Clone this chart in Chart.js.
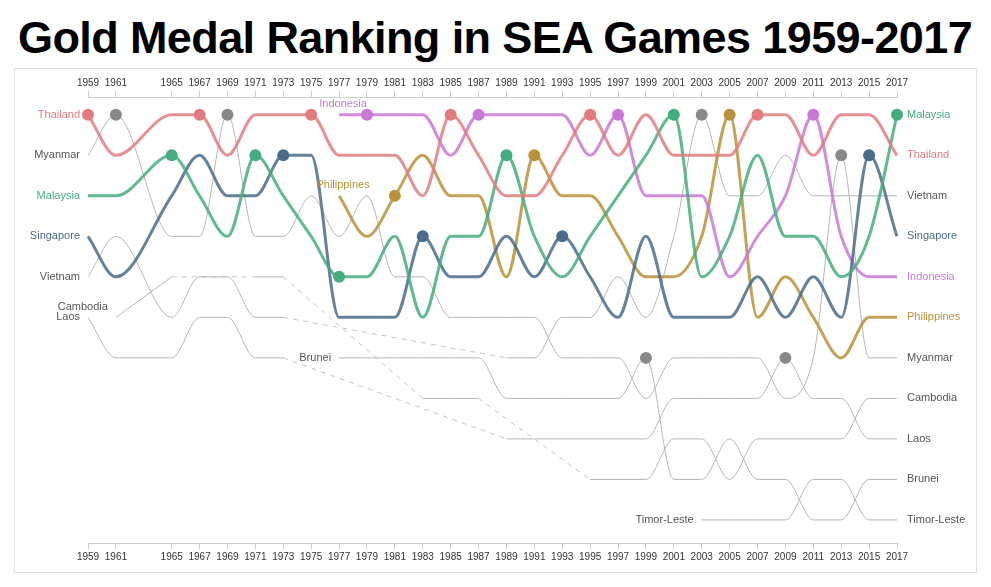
<!DOCTYPE html>
<html>
<head>
<meta charset="utf-8">
<script src="https://cdn.jsdelivr.net/npm/chart.js@4.4.0/dist/chart.umd.min.js"></script>
<style>
  body { margin: 0; background: #fff; font-family: "Liberation Sans", Arial, sans-serif; }
  h1 { position: absolute; left: 18px; top: 13px; margin: 0; font-size: 45px; font-weight: bold; letter-spacing: -0.6px; color: #000; line-height: 50px; }
  #box { position: absolute; left: 14px; top: 68px; width: 961px; height: 503px; border: 1px solid #e2e2e2; }
</style>
</head>
<body>
<h1>Gold Medal Ranking in SEA Games 1959-2017</h1>
<div id="box"><canvas id="rankCanvas"></canvas></div>
<script>
const years = [1959, 1961, 1965, 1967, 1969, 1971, 1973, 1975, 1977, 1979, 1981, 1983, 1985, 1987, 1989,
               1991, 1993, 1995, 1997, 1999, 2001, 2003, 2005, 2007, 2009, 2011, 2013, 2015, 2017];

const hosts = ["Thailand", "Myanmar", "Malaysia", "Thailand", "Myanmar", "Malaysia", "Singapore", "Thailand",
               "Malaysia", "Indonesia", "Philippines", "Singapore", "Thailand", "Indonesia", "Malaysia",
               "Philippines", "Singapore", "Thailand", "Indonesia", "Brunei", "Malaysia", "Vietnam",
               "Philippines", "Thailand", "Laos", "Indonesia", "Myanmar", "Singapore", "Malaysia"];

const n = null;
const thailand    = [1,2,1,1,2,1,1,1,2,2,2,3,1,2,3,3,2,1,2,1,2,2,2,1,1,2,1,1,2];
const malaysia    = [3,3,2,3,4,2,3,4,5,5,4,6,4,4,2,4,5,4,3,2,1,5,4,2,4,4,5,4,1];
const singapore   = [4,5,3,2,3,3,2,2,6,6,6,4,5,5,4,5,4,5,6,4,6,6,6,5,6,5,6,2,4];
const indonesia   = [n,n,n,n,n,n,n,n,1,1,1,1,2,1,1,1,1,2,1,3,3,3,5,4,3,1,4,5,5];
const philippines = [n,n,n,n,n,n,n,n,3,4,3,2,3,3,5,2,3,3,4,5,5,4,1,6,5,6,7,6,6];
const myanmar     = [2,1,4,4,1,4,4,3,4,3,5,5,6,6,6,6,7,7,7,8,7,7,7,7,8,7,2,7,7];
const vietnam     = [5,4,6,5,5,6,6,n,n,n,n,n,n,n,7,7,6,6,5,6,4,1,3,3,2,3,3,3,3];
const cambodia    = [n,6,5,n,n,5,5,n,n,n,n,8,8,8,n,n,n,10,10,10,9,9,10,9,9,9,9,8,8];
const laos        = [6,7,7,6,6,7,7,n,n,n,n,n,n,n,9,9,9,9,9,9,8,8,8,8,7,8,8,9,9];
const brunei      = [n,n,n,n,n,n,n,n,7,7,7,7,7,7,8,8,8,8,8,7,10,10,9,10,10,11,11,10,10];
const timorLeste  = [n,n,n,n,n,n,n,n,n,n,n,n,n,n,n,n,n,n,n,n,n,11,11,11,11,10,10,11,11];

const countries = [
  { name: "Thailand", ranks: thailand, color: "#e07c80", main: true },
  { name: "Malaysia", ranks: malaysia, color: "#45ad7d", main: true },
  { name: "Singapore", ranks: singapore, color: "#4b6b8a", main: true },
  { name: "Indonesia", ranks: indonesia, color: "#c978d6", main: true, above: true },
  { name: "Philippines", ranks: philippines, color: "#b8923a", main: true, above: true },
  { name: "Myanmar", ranks: myanmar, color: "#888888" },
  { name: "Vietnam", ranks: vietnam, color: "#888888" },
  { name: "Cambodia", ranks: cambodia, color: "#888888", lift: 10 },
  { name: "Laos", ranks: laos, color: "#888888" },
  { name: "Brunei", ranks: brunei, color: "#888888" },
  { name: "Timor-Leste", ranks: timorLeste, color: "#888888" }
];

function alpha(hex, a) {
  let r = parseInt(hex.substr(1, 2), 16), g = parseInt(hex.substr(3, 2), 16), b = parseInt(hex.substr(5, 2), 16);
  return "rgba(" + r + "," + g + "," + b + "," + a + ")";
}

let datasets = countries.map(function(c) {
  return {
    label: c.name,
    data: years.map(function(y, i) { return { x: y, y: c.ranks[i] }; }),
    borderColor: c.main ? alpha(c.color, 0.85) : "#b5b5b5",
    borderWidth: c.main ? 3 : 1,
    backgroundColor: c.color,
    pointRadius: hosts.map(function(h) { return h == c.name ? 6 : 0; }),
    pointBorderWidth: 0,
    pointHoverRadius: 0,
    cubicInterpolationMode: "monotone",
    spanGaps: false,
    clip: false,
    order: c.main ? 1 : 2
  };
});

// les annees sans participation : ligne pointillee droite
countries.forEach(function(c) {
  let prev = -1;
  c.ranks.forEach(function(v, i) {
    if (v === null) return;
    if (prev >= 0 && i - prev > 1) {
      datasets.push({
        label: c.name + " gap",
        data: [{ x: years[prev], y: c.ranks[prev] }, { x: years[i], y: v }],
        borderColor: "#c4c4c4",
        borderWidth: 1,
        borderDash: [5, 5],
        pointRadius: 0,
        tension: 0,
        order: 3
      });
    }
    prev = i;
  });
});

// etiquettes des pays au debut et a la fin des lignes
const labelPlugin = {
  id: "labels",
  afterDatasetsDraw: function(chart) {
    const ctx = chart.ctx;
    const xs = chart.scales.x, ys = chart.scales.y;
    ctx.save();
    ctx.font = "11px 'Liberation Sans', Arial, sans-serif";
    ctx.textBaseline = "middle";
    countries.forEach(function(c) {
      let first = c.ranks.findIndex(function(v) { return v !== null; });
      let last = c.ranks.length - 1;
      ctx.fillStyle = c.main ? c.color : "#555";
      let x0 = xs.getPixelForValue(years[first]), y0 = ys.getPixelForValue(c.ranks[first]);
      if (c.above) {
        ctx.textAlign = "center";
        ctx.fillText(c.name, x0 + 4, y0 - 11);
      } else {
        ctx.textAlign = "right";
        ctx.fillText(c.name, x0 - 8, y0 - (c.lift || 0));
      }
      ctx.textAlign = "left";
      ctx.fillText(c.name, xs.getPixelForValue(years[last]) + 10, ys.getPixelForValue(c.ranks[last]));
    });
    ctx.restore();
  }
};

function yearTicks(scale) {
  scale.ticks = years.map(function(y) { return { value: y }; });
}

const xAxis = function(pos) {
  return {
    type: "linear",
    position: pos,
    min: 1959,
    max: 2017,
    afterBuildTicks: yearTicks,
    afterFit: function(s) { s.height = 28; },
    border: { color: "#ccc" },
    grid: { drawOnChartArea: false, color: "#ccc", tickLength: 6 },
    ticks: {
      autoSkip: false, maxRotation: 0, padding: 2, color: "#333",
      font: { size: 10, family: "'Liberation Sans', Arial, sans-serif" },
      callback: function(v) { return String(v); }
    }
  };
};

Chart.defaults.animation = false;

rankChart = new Chart(document.getElementById("rankCanvas"), {
  type: "line",
  data: { datasets: datasets },
  options: {
    responsive: true,
    maintainAspectRatio: false,
    layout: { padding: { left: 73, right: 79, top: 0, bottom: 1 } },
    scales: {
      x: xAxis("bottom"),
      x2: xAxis("top"),
      y: { display: false, reverse: true, min: 0.56, max: 11.57 }
    },
    plugins: { legend: { display: false }, tooltip: { enabled: false } }
  },
  plugins: [labelPlugin]
});
</script>
</body>
</html>
